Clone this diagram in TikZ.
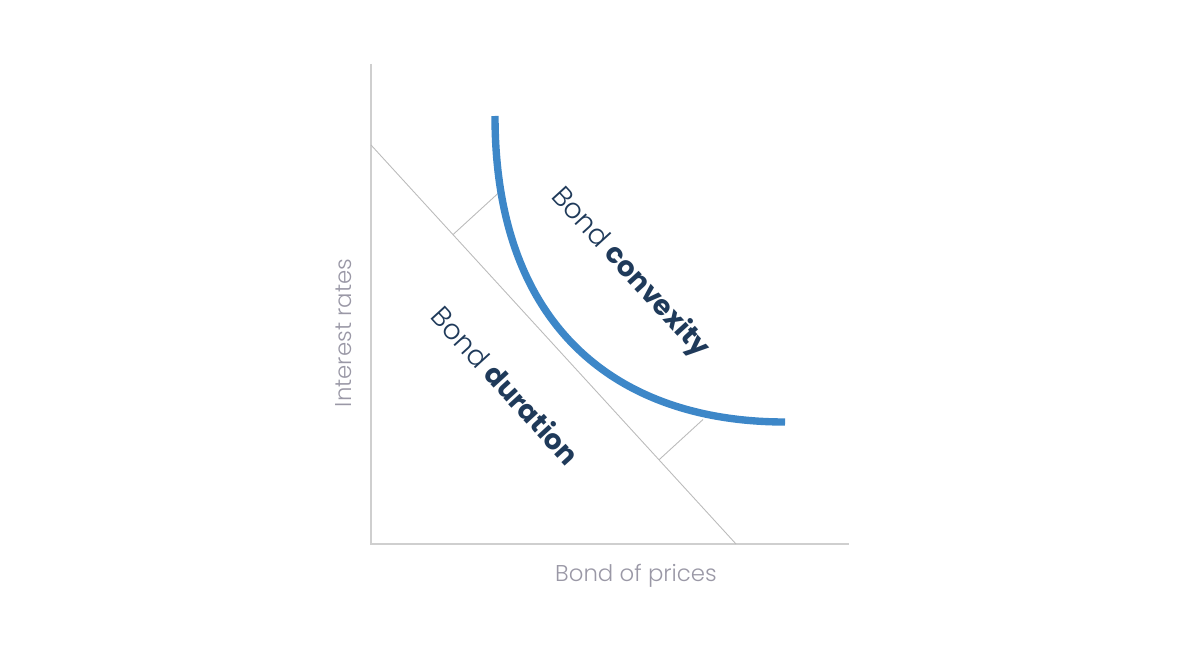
\documentclass[tikz,border=0pt]{standalone}
\usepackage{fontspec}
\setmainfont{Poppins}
\newfontfamily\lightfont{Poppins Light}
\definecolor{curveblue}{HTML}{3D87C8}
\definecolor{labelnavy}{HTML}{1F3A5A}
\definecolor{axisgray}{HTML}{CFCFCF}
\definecolor{guidegray}{HTML}{BBBBBB}
\definecolor{textgray}{HTML}{9A98A6}
\tikzset{
  axisline/.style={axisgray, line width=0.8pt},
  guideline/.style={guidegray, line width=0.5pt},
  bondcurve/.style={curveblue, line width=4.2pt},
  axislabel/.style={textgray, font=\lightfont\fontsize{13}{15}\selectfont, inner sep=0pt},
  curvelabel/.style={labelnavy, font=\fontsize{15.8}{18}\selectfont, inner sep=0pt, rotate=-47.5}
}
\begin{document}
\begin{tikzpicture}[x=0.02cm,y=-0.02cm]
  \useasboundingbox (0,0) rectangle (1200,655);
  % axes
  \coordinate (ytop) at (371,64);
  \coordinate (origin) at (371,544);
  \coordinate (xend) at (849,544);
  \draw [axisline] (ytop) to (origin) to (xend);
  % duration line and its two ticks
  \coordinate (dstart) at (371,145);
  \coordinate (dend) at (736,544);
  \draw [guideline] (dstart) to (dend);
  \coordinate (tickAa) at (453,234.6);
  \coordinate (tickAb) at (499,192.5);
  \coordinate (tickBa) at (659,459.8);
  \coordinate (tickBb) at (703,419.5);
  \draw [guideline] (tickAa) to (tickAb);
  \draw [guideline] (tickBa) to (tickBb);
  % convexity curve
  \coordinate (cstart) at (495,116);
  \coordinate (cend) at (785,422);
  \draw [bondcurve] (cstart) .. controls (495,330) and (620,422) .. (cend);
  % labels
  \node [axislabel, rotate=90] (ylabel) at (344,333) {Interest rates};
  \node [axislabel] (xlabel) at (636,576) {Bond of prices};
  \node [curvelabel] (convexity) at (630,273) {{\lightfont Bond} \textbf{convexity}};
  \node [curvelabel] (duration) at (506,385) {{\lightfont Bond} \textbf{duration}};
\end{tikzpicture}
\end{document}
